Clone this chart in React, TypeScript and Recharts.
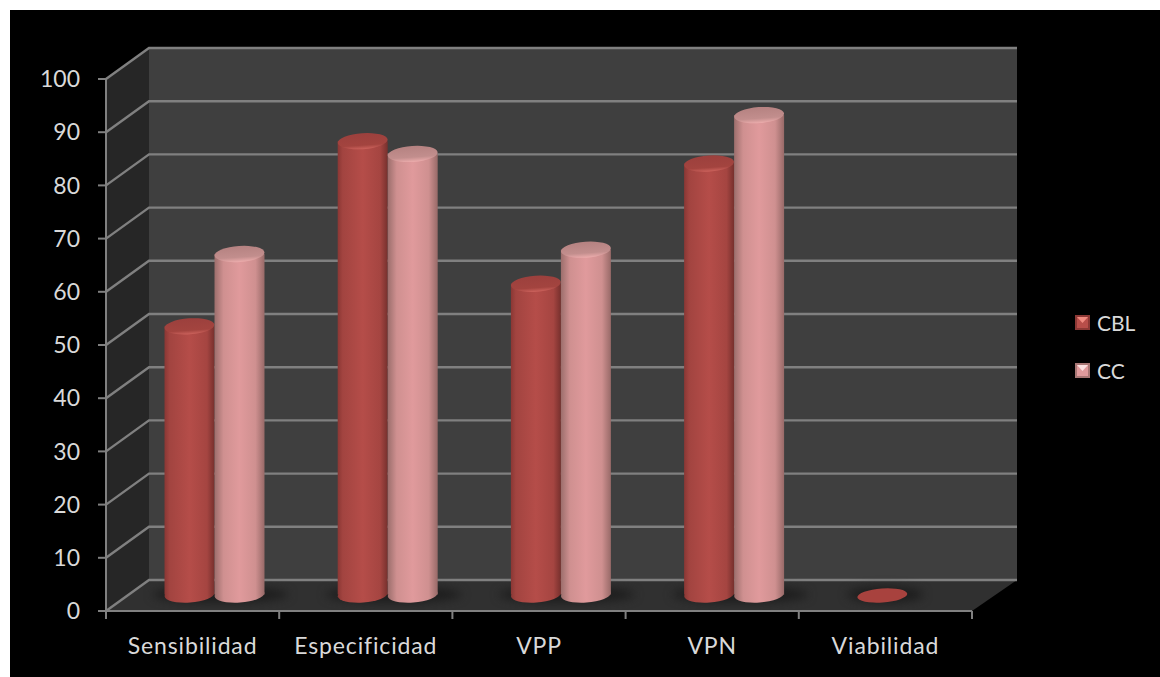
import { BarChart, Bar, XAxis, YAxis, CartesianGrid, Legend, usePlotArea } from 'recharts';

const categories = ['Sensibilidad', 'Especificidad', 'VPP', 'VPN', 'Viabilidad'];
const cblValues = [50.6, 85.4, 58.6, 81.2, 0];
const ccValues = [64.2, 83, 65, 90.3, null];
const yTicks = [0, 10, 20, 30, 40, 50, 60, 70, 80, 90, 100];

const data = categories.map((name, i) => ({ name, CBL: cblValues[i], CC: ccValues[i] }));

// depth of the fake 3D box, front edge to back wall
const DEPTH_X = 43;
const DEPTH_Y = 31;
const BAR_WIDTH = 50;
const CAP_RY = 8;
const CAP_TILT = -4;
const FONT = 'Lato, "Open Sans", sans-serif';
const TEXT_COLOR = '#d9d9d9';
const LINE_COLOR = '#808080';

const Gradients = () => (
  <defs>
    <linearGradient id="cblBody" x1="0" y1="0" x2="1" y2="0">
      <stop offset="0" stopColor="#8a3734" />
      <stop offset="0.1" stopColor="#a24440" />
      <stop offset="0.5" stopColor="#b54d49" />
      <stop offset="0.85" stopColor="#a54541" />
      <stop offset="1" stopColor="#76302d" />
    </linearGradient>
    <linearGradient id="ccBody" x1="0" y1="0" x2="1" y2="0">
      <stop offset="0" stopColor="#9c6e6c" />
      <stop offset="0.18" stopColor="#cf9090" />
      <stop offset="0.5" stopColor="#e09a9c" />
      <stop offset="0.82" stopColor="#cf9090" />
      <stop offset="1" stopColor="#986a68" />
    </linearGradient>
    <linearGradient id="cblCap" x1="0" y1="0" x2="0" y2="1">
      <stop offset="0" stopColor="#9c403d" />
      <stop offset="0.75" stopColor="#a3443f" />
      <stop offset="1" stopColor="#cc625c" />
    </linearGradient>
    <linearGradient id="ccCap" x1="0" y1="0" x2="0" y2="1">
      <stop offset="0" stopColor="#b58281" />
      <stop offset="0.7" stopColor="#c28e8d" />
      <stop offset="1" stopColor="#ecacac" />
    </linearGradient>
    <filter id="floorShadow" x="-30%" y="-100%" width="160%" height="300%" colorInterpolationFilters="sRGB">
      <feGaussianBlur stdDeviation="5" />
    </filter>
  </defs>
);

// back wall, side wall and floor behind the plot
const Walls = () => {
  const plot = usePlotArea();
  if (!plot) return null;
  const left = plot.x;
  const right = plot.x + plot.width;
  const top = plot.y;
  const bottom = plot.y + plot.height;
  return (
    <g>
      <polygon
        points={`${left + DEPTH_X},${top - DEPTH_Y} ${right + 45},${top - DEPTH_Y} ${right + 45},${bottom - DEPTH_Y} ${left + DEPTH_X},${bottom - DEPTH_Y}`}
        fill="#3f3f3f"
      />
      <polygon
        points={`${left},${top} ${left + DEPTH_X},${top - DEPTH_Y} ${left + DEPTH_X},${bottom - DEPTH_Y} ${left},${bottom}`}
        fill="#262626"
      />
      <polygon
        points={`${left},${bottom} ${left + DEPTH_X},${bottom - DEPTH_Y} ${right + 45},${bottom - DEPTH_Y} ${right},${bottom}`}
        fill="#303030"
      />
    </g>
  );
};

const WallLine = ({ x1, x2, y1 }: any) => (
  <polyline
    points={`${x1},${y1} ${x1 + DEPTH_X},${y1 - DEPTH_Y} ${x2 + 45},${y1 - DEPTH_Y}`}
    fill="none"
    stroke={LINE_COLOR}
    strokeWidth={2.4}
  />
);

// category tick marks sit on the band edges, the label stays in the middle
const CategoryTick = ({ x, y, width, visibleTicksCount, index, payload }: any) => {
  const half = width / visibleTicksCount / 2;
  const axisY = y - 22;
  const isLast = index === visibleTicksCount - 1;
  return (
    <g>
      <line x1={x - half} x2={x - half} y1={axisY} y2={axisY + 8} stroke={LINE_COLOR} strokeWidth={2} />
      {isLast && <line x1={x + half} x2={x + half} y1={axisY} y2={axisY + 8} stroke={LINE_COLOR} strokeWidth={2} />}
      <text
        x={x}
        y={axisY + 37}
        dominantBaseline="middle"
        textAnchor="middle"
        fill={TEXT_COLOR}
        fontFamily={FONT}
        fontSize={23}
        letterSpacing={0.85}
      >
        {payload.value}
      </text>
    </g>
  );
};

const Cylinder = ({ x, y, width, height, body, cap, shadow }: any) => {
  const left = x + DEPTH_X / 2;
  const cx = left + width / 2;
  const top = y - DEPTH_Y / 2;
  const base = top + height;
  const flat = height <= 0;
  return (
    <g>
      {shadow && (
        <ellipse
          cx={cx + (flat ? 3 : width / 2 + 6)}
          cy={base - 1}
          rx={flat ? 38 : 68}
          ry={8}
          fill="#1d1d1d"
          filter="url(#floorShadow)"
        />
      )}
      {!flat && (
        <>
          <ellipse cx={cx} cy={base - 1} rx={width / 2} ry={CAP_RY} fill={`url(#${body})`} transform={`rotate(${CAP_TILT} ${cx} ${base - 1})`} />
          <rect x={left} y={top} width={width} height={height - 1} fill={`url(#${body})`} />
        </>
      )}
      <ellipse
        cx={cx}
        cy={top}
        rx={width / 2}
        ry={flat ? 7 : CAP_RY}
        fill={flat ? '#a8423e' : `url(#${cap})`}
        transform={`rotate(${CAP_TILT} ${cx} ${top})`}
      />
    </g>
  );
};

const LegendChip = ({ light, dark, tip }: any) => (
  <svg width={15} height={15} style={{ display: 'block' }}>
    <rect width={15} height={15} fill={dark} />
    <rect x={2} y={2} width={11} height={11} fill={light} />
    <polygon points="2,2 13,2 7.5,8" fill={tip} />
  </svg>
);

const chipColors: Record<string, any> = {
  CBL: { light: '#b84e4a', dark: '#8c3835', tip: '#f08a80' },
  CC: { light: '#e09a9c', dark: '#a87674', tip: '#fbe0e0' },
};

const SeriesLegend = ({ payload }: any) => (
  <div style={{ fontFamily: FONT, fontSize: 21, color: TEXT_COLOR }}>
    {(payload || []).map((entry: any) => (
      <div key={entry.value} style={{ display: 'flex', alignItems: 'center', height: 48 }}>
        <LegendChip {...chipColors[entry.value]} />
        <span style={{ marginLeft: 7 }}>{entry.value}</span>
      </div>
    ))}
  </div>
);

export default function App() {
  return (
    <div style={{ position: 'absolute', left: 0, top: 0, width: 1160, height: 677, background: '#fff', overflow: 'hidden' }}>
      <div style={{ position: 'absolute', left: 10, top: 10, width: 1150, height: 667, background: '#000' }} />
      <div style={{ position: 'absolute', left: 0, top: 0 }}>
        <BarChart
          width={1160}
          height={677}
          data={data}
          barSize={BAR_WIDTH}
          barGap={0}
          margin={{ top: 79, right: 103, bottom: 26, left: 46 }}
        >
          <Gradients />
          <Walls />
          <CartesianGrid
            zIndex={1}
            vertical={false}
            horizontalValues={yTicks}
            horizontal={(props: any) => <WallLine key={props.key} {...props} />}
          />
          <XAxis
            dataKey="name"
            height={40}
            interval={0}
            tickSize={0}
            tickMargin={22}
            tickLine={false}
            axisLine={{ stroke: LINE_COLOR, strokeWidth: 2 }}
            tick={<CategoryTick />}
          />
          <YAxis
            width={60}
            domain={[0, 100]}
            ticks={yTicks}
            interval={0}
            tickSize={8}
            tickMargin={18}
            axisLine={{ stroke: LINE_COLOR, strokeWidth: 2 }}
            tickLine={{ stroke: LINE_COLOR, strokeWidth: 2 }}
            tick={{ fill: TEXT_COLOR, fontFamily: FONT, fontSize: 23 }}
          />
          <Legend
            layout="vertical"
            align="right"
            verticalAlign="middle"
            width={85}
            content={<SeriesLegend />}
            wrapperStyle={{ left: 1075, top: 298 }}
          />
          <Bar
            dataKey="CBL"
            isAnimationActive={false}
            shape={(props: any) => <Cylinder {...props} body="cblBody" cap="cblCap" shadow />}
          />
          <Bar
            dataKey="CC"
            isAnimationActive={false}
            shape={(props: any) => <Cylinder {...props} body="ccBody" cap="ccCap" />}
          />
        </BarChart>
      </div>
    </div>
  );
}
